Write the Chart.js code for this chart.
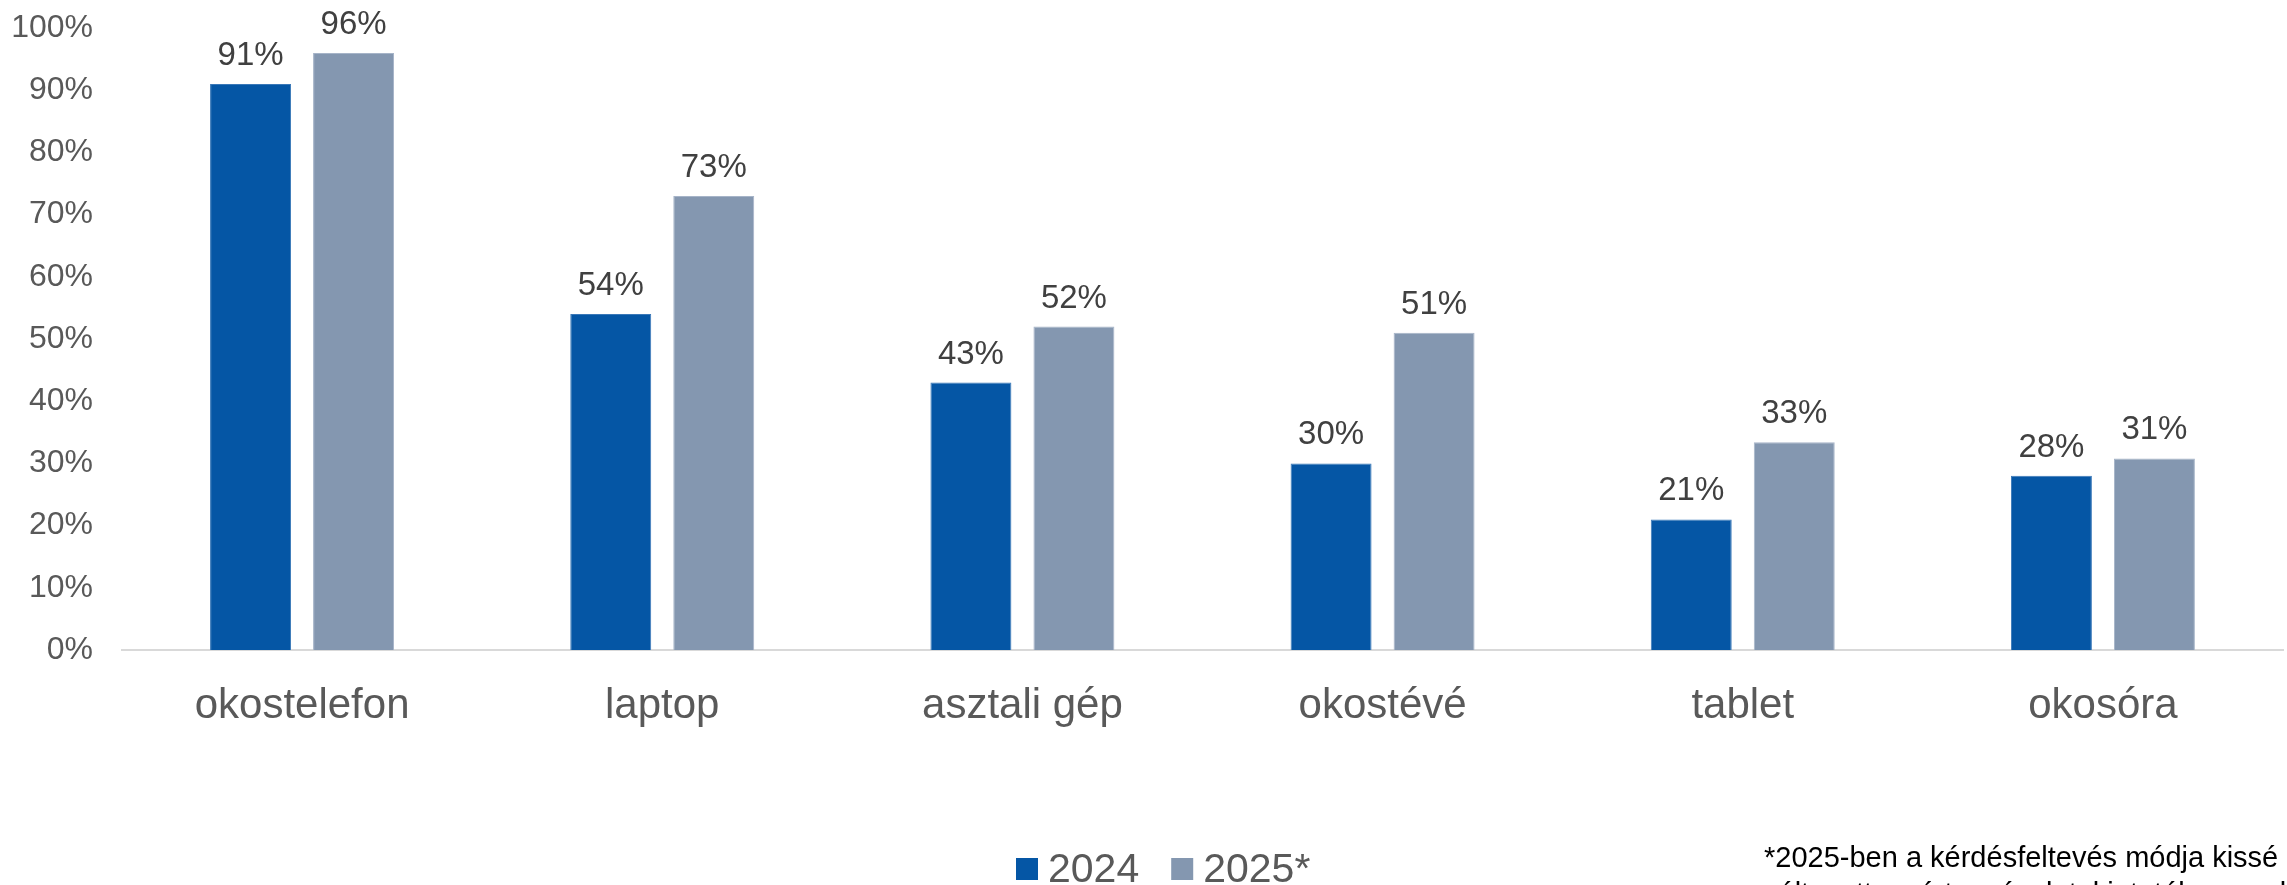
<!DOCTYPE html>
<html>
<head>
<meta charset="utf-8">
<script src="https://cdn.jsdelivr.net/npm/chart.js@4.4.1/dist/chart.umd.min.js"></script>
<style>
  html, body { margin: 0; padding: 0; background: #fff; }
  #wrap { width: 2287px; height: 885px; overflow: hidden; }
</style>
</head>
<body>
<div id="wrap"><canvas id="grafikon" width="2287" height="885"></canvas></div>
<script>
'use strict';

/****************************** Adatok ******************************/
var kategoriak = ['okostelefon', 'laptop', 'asztali gép', 'okostévé', 'tablet', 'okosóra'];
var ertekek2024 = [91, 54, 43, 30, 21, 28];
var ertekek2025 = [96, 73, 52, 51, 33.4, 30.8];
var sorozatNevek = ['2024', '2025*'];
var tengelyMin = 0;
var tengelyMax = 100;
var tengelyLepes = 10;
var labjegyzet = [
  '*2025-ben a kérdésfeltevés módja kissé',
  'változott, ezért az évek tekintetében csak'
];

var szin2024 = '#0556A5';
var szin2025 = '#8497B0';
var betu = '"Liberation Sans", Arial, sans-serif';

/****************************** Pluginek ******************************/
// százalékos címkék az oszlopok fölé
var oszlopCimkek = {
  id: 'oszlopCimkek',
  afterDatasetsDraw: function(chart) {
    var ctx = chart.ctx;
    ctx.save();
    ctx.font = '33px ' + betu;
    ctx.fillStyle = '#404040';
    ctx.textAlign = 'center';
    ctx.textBaseline = 'alphabetic';
    chart.data.datasets.forEach(function(ds, i) {
      chart.getDatasetMeta(i).data.forEach(function(bar, j) {
        ctx.fillText(Math.round(ds.data[j]) + '%', bar.x, bar.y - 19);
      });
    });
    ctx.restore();
  }
};

// jelmagyarázat + lábjegyzet
var jelmagyarazat = {
  id: 'jelmagyarazat',
  afterDraw: function(chart) {
    var ctx = chart.ctx;
    ctx.save();
    ctx.font = '41px ' + betu;
    ctx.textBaseline = 'alphabetic';
    ctx.textAlign = 'left';
    var x = 1016;
    chart.data.datasets.forEach(function(ds) {
      ctx.fillStyle = ds.backgroundColor;
      ctx.fillRect(x, 858, 22, 22);
      ctx.fillStyle = '#595959';
      ctx.fillText(ds.label, x + 32, 882);
      x += 32 + ctx.measureText(ds.label).width + 32;
    });

    ctx.font = '29px ' + betu;
    ctx.fillStyle = '#000';
    labjegyzet.forEach(function(sor, k) {
      ctx.fillText(sor, 1764, 867 + k * 36);
    });
    ctx.restore();
  }
};

/****************************** Grafikon ******************************/
var grafikon = new Chart(document.getElementById('grafikon').getContext('2d'), {
  type: 'bar',
  data: {
    labels: kategoriak,
    datasets: [{
      label: sorozatNevek[0],
      data: ertekek2024,
      backgroundColor: szin2024,
      borderColor: '#3a78b8',
      borderWidth: 1
    }, {
      label: sorozatNevek[1],
      data: ertekek2025,
      backgroundColor: szin2025,
      borderColor: '#a6b4c8',
      borderWidth: 1
    }]
  },
  options: {
    responsive: false,
    animation: false,
    devicePixelRatio: 1,
    categoryPercentage: 0.572,
    barPercentage: 0.786,
    layout: { padding: { top: 28, right: 4, bottom: 0, left: 0 } },
    plugins: {
      legend: { display: false },
      tooltip: { enabled: false }
    },
    scales: {
      x: {
        grid: { display: false, drawTicks: false },
        border: { display: true, color: '#d9d9d9', width: 2 },
        ticks: {
          color: '#595959',
          font: { family: betu, size: 42 },
          padding: 31,
          maxRotation: 0
        },
        afterFit: function(scale) { scale.height = 235; }
      },
      y: {
        min: tengelyMin,
        max: tengelyMax,
        grid: { display: false, drawTicks: false },
        border: { display: false },
        ticks: {
          stepSize: tengelyLepes,
          color: '#595959',
          font: { family: betu, size: 32 },
          padding: 29,
          callback: function(v) { return v + '%'; }
        },
        afterFit: function(scale) {
          scale.width = 122;
          scale.paddingTop = 0;
          scale.paddingBottom = 0;
        }
      }
    }
  },
  plugins: [oszlopCimkek, jelmagyarazat]
});
</script>
</body>
</html>
